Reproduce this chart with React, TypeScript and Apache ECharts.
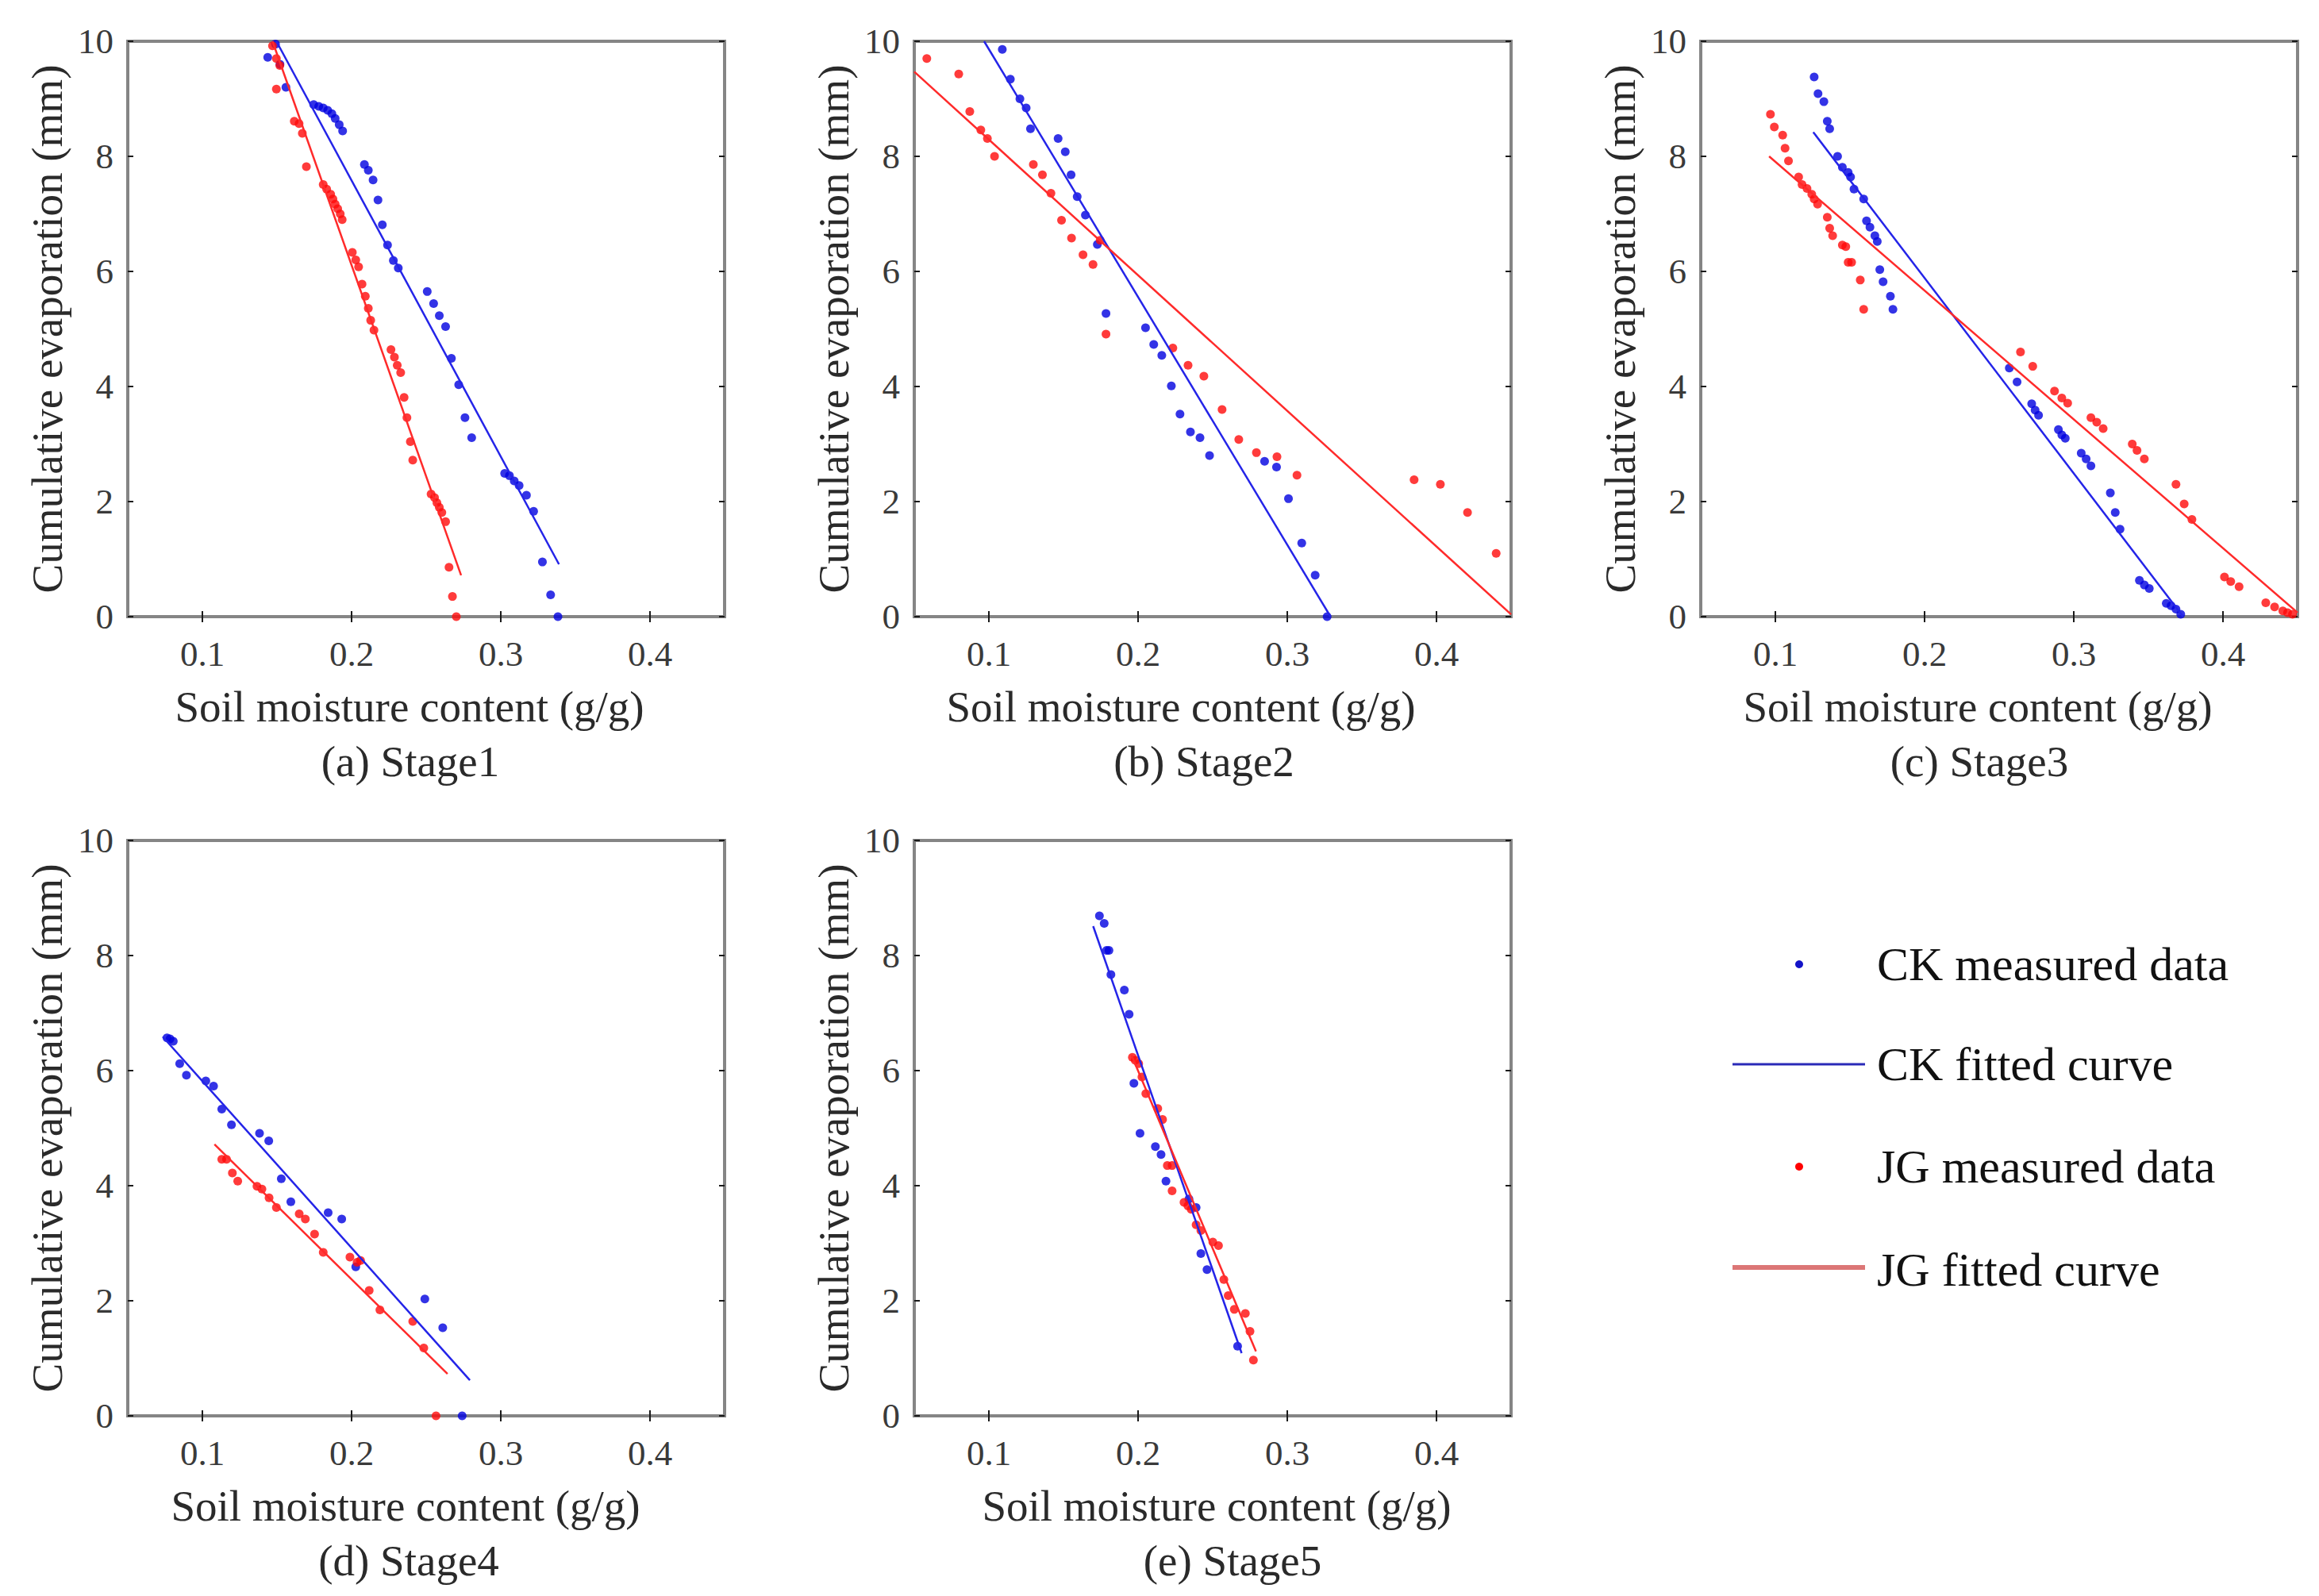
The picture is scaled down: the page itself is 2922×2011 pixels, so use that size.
import * as echarts from 'echarts';
import { useEffect, useRef } from 'react';

type Pt = [number, number];

// ---- data (x: soil moisture g/g, y: cumulative evaporation mm) ----
const X_TICKS = [0.1, 0.2, 0.3, 0.4];
const STAGE_LABELS = ['(a) Stage1', '(b) Stage2', '(c) Stage3', '(d) Stage4', '(e) Stage5'];
const LEGEND_LABELS = ['CK measured data', 'CK fitted curve', 'JG measured data', 'JG fitted curve'];

const CK_A: Pt[] = [
  [0.1438, 9.72], [0.149, 9.95], [0.152, 9.6], [0.156, 9.2],
  [0.1746, 8.9], [0.178, 8.87], [0.181, 8.84], [0.184, 8.8], [0.1868, 8.74], [0.189, 8.66], [0.1917, 8.55], [0.194, 8.44],
  [0.2086, 7.86], [0.2112, 7.76], [0.2144, 7.59], [0.2177, 7.24],
  [0.2206, 6.81], [0.2241, 6.46], [0.228, 6.19], [0.2313, 6.06],
  [0.2507, 5.65], [0.255, 5.44], [0.2588, 5.23], [0.263, 5.04],
  [0.2669, 4.49], [0.2718, 4.03], [0.276, 3.46], [0.2805, 3.11],
  [0.3026, 2.49], [0.3058, 2.45], [0.309, 2.36], [0.3123, 2.28], [0.3172, 2.11], [0.322, 1.83],
  [0.3279, 0.95], [0.3334, 0.38], [0.3383, 0],
];
const JG_A: Pt[] = [
  [0.147, 9.92], [0.1496, 9.7], [0.1519, 9.58], [0.1496, 9.17],
  [0.1616, 8.61], [0.1648, 8.57], [0.167, 8.4], [0.1697, 7.82],
  [0.181, 7.51], [0.1833, 7.43], [0.186, 7.34], [0.1875, 7.26], [0.189, 7.17], [0.1907, 7.09], [0.1924, 7.0], [0.1937, 6.9],
  [0.2005, 6.33], [0.2028, 6.2], [0.2047, 6.08],
  [0.207, 5.78], [0.2092, 5.57], [0.2112, 5.36], [0.2128, 5.15], [0.215, 4.98],
  [0.2264, 4.64], [0.2287, 4.51], [0.2306, 4.37], [0.2329, 4.24],
  [0.2352, 3.81], [0.2371, 3.46], [0.2394, 3.04], [0.241, 2.72],
  [0.2533, 2.13], [0.2556, 2.07], [0.2572, 1.98], [0.2588, 1.9], [0.2605, 1.81], [0.263, 1.65],
  [0.2653, 0.86], [0.2676, 0.35], [0.2702, 0],
];
const CK_FIT_A: Pt[] = [[0.1496, 10], [0.339, 0.91]];
const JG_FIT_A: Pt[] = [[0.147, 10], [0.2734, 0.72]];

const CK_B: Pt[] = [
  [0.109, 9.86], [0.1144, 9.34], [0.1208, 9.0], [0.125, 8.84], [0.1279, 8.48],
  [0.1464, 8.31], [0.1512, 8.08], [0.1551, 7.68], [0.1592, 7.3], [0.1647, 6.98], [0.1727, 6.47],
  [0.1785, 5.27], [0.205, 5.02], [0.2105, 4.73], [0.2159, 4.54], [0.2223, 4.01], [0.2281, 3.52],
  [0.2351, 3.21], [0.2415, 3.11], [0.2479, 2.8], [0.2848, 2.7], [0.2928, 2.6], [0.3008, 2.05],
  [0.3097, 1.28], [0.3187, 0.72], [0.3267, 0],
];
const JG_B: Pt[] = [
  [0.0584, 9.7], [0.0798, 9.43], [0.0872, 8.78], [0.0946, 8.46], [0.099, 8.31], [0.1038, 8.0],
  [0.1298, 7.86], [0.1359, 7.68], [0.1416, 7.36], [0.1487, 6.89], [0.1554, 6.58], [0.1631, 6.29],
  [0.1698, 6.12], [0.1746, 6.54], [0.1785, 4.91], [0.2233, 4.67], [0.2335, 4.37], [0.2441, 4.18],
  [0.2563, 3.6], [0.2675, 3.08], [0.2793, 2.85], [0.2931, 2.78], [0.3065, 2.46],
  [0.385, 2.38], [0.4026, 2.3], [0.4208, 1.81], [0.44, 1.1],
];
const CK_FIT_B: Pt[] = [[0.0968, 10], [0.329, 0]];
const JG_FIT_B: Pt[] = [[0.05, 9.47], [0.45, 0.04]];

const CK_C: Pt[] = [
  [0.126, 9.38], [0.1286, 9.09], [0.1325, 8.95], [0.1348, 8.61], [0.1364, 8.48], [0.1417, 8.0],
  [0.1449, 7.81], [0.1488, 7.72], [0.1504, 7.64], [0.1527, 7.43], [0.1592, 7.26],
  [0.1611, 6.88], [0.1634, 6.77], [0.1667, 6.62], [0.1683, 6.52], [0.17, 6.03], [0.1722, 5.82],
  [0.1771, 5.57], [0.1788, 5.34],
  [0.2568, 4.32], [0.262, 4.08], [0.2718, 3.7], [0.2741, 3.59], [0.2764, 3.5],
  [0.2897, 3.25], [0.292, 3.16], [0.2943, 3.1], [0.305, 2.84], [0.3083, 2.74], [0.3115, 2.62],
  [0.3245, 2.15], [0.3278, 1.81], [0.331, 1.52],
  [0.344, 0.63], [0.3473, 0.55], [0.3506, 0.49],
  [0.362, 0.23], [0.3652, 0.19], [0.3685, 0.13], [0.3717, 0.04],
];
const JG_C: Pt[] = [
  [0.0967, 8.73], [0.0993, 8.51], [0.1049, 8.37], [0.1065, 8.14], [0.1088, 7.92],
  [0.1156, 7.64], [0.1179, 7.51], [0.1212, 7.44], [0.1244, 7.34], [0.126, 7.26], [0.1283, 7.17],
  [0.1348, 6.94], [0.1364, 6.75], [0.1384, 6.62], [0.1449, 6.46], [0.1472, 6.43],
  [0.1488, 6.16], [0.1511, 6.16], [0.1569, 5.85], [0.1592, 5.34],
  [0.2643, 4.6], [0.2725, 4.35], [0.2871, 3.92], [0.292, 3.8], [0.2959, 3.71],
  [0.3115, 3.46], [0.3154, 3.38], [0.3197, 3.27], [0.3392, 3.0], [0.3424, 2.89], [0.3473, 2.74],
  [0.3685, 2.3], [0.374, 1.96], [0.3792, 1.69],
  [0.401, 0.69], [0.4052, 0.61], [0.4108, 0.52],
  [0.4287, 0.24], [0.4346, 0.17], [0.4401, 0.1], [0.4433, 0.07], [0.4466, 0.04],
];
const CK_FIT_C: Pt[] = [[0.1254, 8.42], [0.3733, 0]];
const JG_FIT_C: Pt[] = [[0.0958, 8.0], [0.45, 0.07]];

const CK_D: Pt[] = [
  [0.0763, 6.57], [0.0783, 6.55], [0.0805, 6.51], [0.0848, 6.12], [0.0893, 5.92],
  [0.1023, 5.82], [0.1075, 5.73], [0.113, 5.33], [0.1195, 5.06], [0.1383, 4.91], [0.1445, 4.78],
  [0.1529, 4.12], [0.1593, 3.72], [0.1843, 3.53], [0.1934, 3.42], [0.2028, 2.59],
  [0.2491, 2.03], [0.2611, 1.53], [0.2741, 0],
];
const JG_D: Pt[] = [
  [0.113, 4.46], [0.1162, 4.46], [0.1201, 4.22], [0.1237, 4.08], [0.1366, 3.99], [0.1399, 3.94],
  [0.1447, 3.79], [0.1496, 3.62], [0.1649, 3.51], [0.169, 3.42], [0.1752, 3.16], [0.181, 2.84],
  [0.1989, 2.76], [0.2037, 2.67], [0.206, 2.7], [0.2118, 2.18], [0.219, 1.84], [0.241, 1.64],
  [0.2484, 1.18], [0.2566, 0],
];
const CK_FIT_D: Pt[] = [[0.0734, 6.59], [0.2793, 0.62]];
const JG_FIT_D: Pt[] = [[0.1081, 4.72], [0.2643, 0.73]];

const CK_E: Pt[] = [
  [0.1741, 8.69], [0.1773, 8.56], [0.1789, 8.09], [0.1805, 8.09], [0.1818, 7.67], [0.1908, 7.4],
  [0.194, 6.98], [0.1972, 5.78], [0.2013, 4.91], [0.2116, 4.68], [0.2154, 4.54], [0.2187, 4.08],
  [0.2341, 3.77], [0.2389, 3.62], [0.2421, 2.82], [0.2462, 2.54], [0.2667, 1.21],
];
const JG_E: Pt[] = [
  [0.1962, 6.23], [0.1981, 6.18], [0.2004, 6.12], [0.2026, 5.89], [0.2052, 5.6],
  [0.2132, 5.34], [0.2164, 5.15], [0.2196, 4.35], [0.2228, 4.35], [0.2228, 3.91],
  [0.2308, 3.71], [0.2334, 3.65], [0.2356, 3.59], [0.2389, 3.32], [0.2421, 3.22],
  [0.2501, 3.02], [0.2539, 2.96], [0.2575, 2.37], [0.2604, 2.09], [0.2645, 1.85],
  [0.2719, 1.78], [0.275, 1.47], [0.2773, 0.97],
];
const CK_FIT_E: Pt[] = [[0.1699, 8.51], [0.2694, 1.09]];
const JG_FIT_E: Pt[] = [[0.1956, 6.27], [0.279, 1.12]];

const CK_POINTS = [CK_A, CK_B, CK_C, CK_D, CK_E];
const JG_POINTS = [JG_A, JG_B, JG_C, JG_D, JG_E];
const CK_FITS = [CK_FIT_A, CK_FIT_B, CK_FIT_C, CK_FIT_D, CK_FIT_E];
const JG_FITS = [JG_FIT_A, JG_FIT_B, JG_FIT_C, JG_FIT_D, JG_FIT_E];

// ---- layout (pixels) ----
const FONT = "'Liberation Serif', 'Times New Roman', serif";
const BLUE = '#0000e0';
const RED = '#ff0a0a';
const PANELS = [
  { left: 161, top: 52, shift: -21, capX: 517 },
  { left: 1152, top: 52, shift: -40, capX: 1517 },
  { left: 2143, top: 52, shift: -27, capX: 2494 },
  { left: 161, top: 1059, shift: -26, capX: 515 },
  { left: 1152, top: 1059, shift: 5, capX: 1553 },
];
const PW = 752;
const PH = 725;

function buildOption() {
  const grid: any[] = [];
  const xAxis: any[] = [];
  const yAxis: any[] = [];
  const series: any[] = [];
  const graphic: any[] = [];

  const tick = { show: true, inside: true, length: 7, lineStyle: { color: '#1a1a1a', width: 2 } };
  const label = { fontSize: 45, color: '#3a3a3a', fontFamily: FONT };
  const nameStyle = { fontSize: 55, color: '#2a2a2a', fontFamily: FONT };

  PANELS.forEach((p, i) => {
    grid.push({
      left: p.left, top: p.top, width: PW, height: PH,
      show: true, borderColor: '#858585', borderWidth: 4, backgroundColor: '#ffffff',
    });
    const pad = p.shift < 0 ? [0, -2 * p.shift, 0, 0] : [0, 0, 0, 2 * p.shift];
    xAxis.push({
      gridIndex: i, type: 'value', min: 0.05, max: 0.45, position: 'bottom',
      axisLine: { show: false },
      axisTick: { ...tick, customValues: X_TICKS },
      axisLabel: { ...label, margin: 24, customValues: X_TICKS, formatter: (v: number) => v.toFixed(1) },
      splitLine: { show: false },
      name: 'Soil moisture content (g/g)', nameLocation: 'middle', nameGap: 86,
      nameTextStyle: { ...nameStyle, padding: pad },
    });
    xAxis.push({
      gridIndex: i, type: 'value', min: 0.05, max: 0.45, position: 'top',
      axisLine: { show: false },
      axisTick: { ...tick, customValues: X_TICKS },
      axisLabel: { show: false },
      splitLine: { show: false },
    });
    yAxis.push({
      gridIndex: i, type: 'value', min: 0, max: 10, interval: 2, position: 'left',
      axisLine: { show: false },
      axisTick: tick,
      axisLabel: { ...label, margin: 18 },
      splitLine: { show: false },
      name: 'Cumulative evaporation (mm)', nameLocation: 'middle', nameGap: 74, nameRotate: 90,
      nameTextStyle: nameStyle,
    });
    yAxis.push({
      gridIndex: i, type: 'value', min: 0, max: 10, interval: 2, position: 'right',
      axisLine: { show: false },
      axisTick: tick,
      axisLabel: { show: false },
      splitLine: { show: false },
    });

    const ax = { xAxisIndex: 2 * i, yAxisIndex: 2 * i };
    series.push({
      ...ax, type: 'scatter', name: 'CK measured data', data: CK_POINTS[i],
      symbol: 'circle', symbolSize: 11, itemStyle: { color: BLUE }, z: 3,
    });
    series.push({
      ...ax, type: 'line', name: 'CK fitted curve', data: CK_FITS[i], showSymbol: false, symbol: 'none',
      lineStyle: { color: '#2424e8', width: 2.5 }, z: 4,
    });
    series.push({
      ...ax, type: 'scatter', name: 'JG measured data', data: JG_POINTS[i],
      symbol: 'circle', symbolSize: 11, itemStyle: { color: RED }, z: 3,
    });
    series.push({
      ...ax, type: 'line', name: 'JG fitted curve', data: JG_FITS[i], showSymbol: false, symbol: 'none',
      lineStyle: { color: '#ff2a2a', width: 2.5 }, z: 4,
    });

    graphic.push({
      type: 'text', x: p.capX, y: p.top + PH + 182,
      style: {
        text: STAGE_LABELS[i], font: `55px ${FONT}`, fill: '#2a2a2a',
        textAlign: 'center', textVerticalAlign: 'middle',
      },
    });
  });

  // legend block
  const rows = [1215, 1341, 1470, 1600];
  graphic.push({ type: 'circle', shape: { cx: 2267, cy: rows[0], r: 5 }, style: { fill: '#1414c8' } });
  graphic.push({ type: 'line', shape: { x1: 2183, y1: rows[1], x2: 2350, y2: rows[1] }, style: { stroke: '#2a2ab8', lineWidth: 3 } });
  graphic.push({ type: 'circle', shape: { cx: 2267, cy: rows[2], r: 5 }, style: { fill: '#ff0000' } });
  graphic.push({ type: 'line', shape: { x1: 2183, y1: rows[3] - 3, x2: 2350, y2: rows[3] - 3 }, style: { stroke: '#dc7676', lineWidth: 6 } });
  LEGEND_LABELS.forEach((t, k) => {
    graphic.push({
      type: 'text', x: 2365, y: rows[k],
      style: { text: t, font: `60px ${FONT}`, fill: '#111111', textAlign: 'left', textVerticalAlign: 'middle' },
    });
  });

  return { animation: false, backgroundColor: '#ffffff', grid, xAxis, yAxis, series, graphic };
}

export default function App() {
  const ref = useRef<HTMLDivElement | null>(null);

  useEffect(() => {
    if (!ref.current) return undefined;
    const chart = echarts.init(ref.current, undefined, { renderer: 'svg' });
    chart.setOption(buildOption());
    const onResize = () => chart.resize();
    window.addEventListener('resize', onResize);
    return () => {
      window.removeEventListener('resize', onResize);
      chart.dispose();
    };
  }, []);

  return (
    <div
      ref={ref}
      style={{ position: 'absolute', left: 0, top: 0, width: 2922, height: 2011, background: '#fff' }}
    />
  );
}
